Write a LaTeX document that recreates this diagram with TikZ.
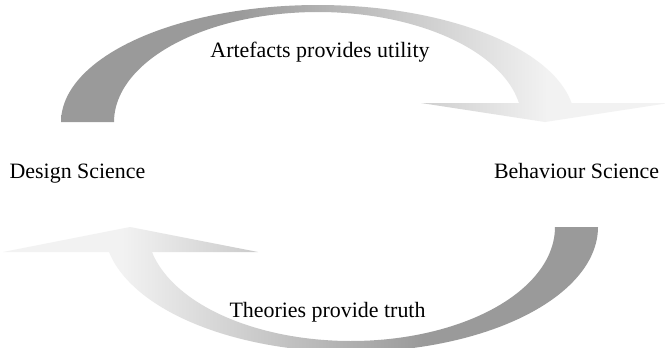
\documentclass[tikz,border=0pt]{standalone}
\usepackage{fontspec}
\setmainfont{Liberation Serif}
\definecolor{arrowdark}{HTML}{9A9A9A}
\definecolor{arrowlight}{HTML}{F2F2F2}
% dark on the tail side, fading to light towards the head
\pgfdeclarehorizontalshading{sweep}{100bp}{color(0bp)=(arrowdark); color(39.7bp)=(arrowdark); color(65bp)=(arrowlight); color(100bp)=(arrowlight)}
\tikzset{
  tag text/.style={inner sep=0pt, font=\fontsize{22}{26}\selectfont, anchor=base},
  block arrow/.style={shading=sweep, draw=none},
}
\begin{document}
\begin{tikzpicture}[x=1bp, y=-1bp]
\useasboundingbox (0,0) rectangle (665,347);
\fill[white] (0,0) rectangle (665,347);
\clip (0,0) rectangle (665,347);

% upper curved arrow, from Design Science over to Behaviour Science
\shade[block arrow]
  plot[domain=180:350.66, samples=90] ({318+257*cos(\x)}, {122+117*sin(\x)})
  -- (669,103) -- (545,122) -- (421,103)
  -- plot[domain=350.06:180, samples=90] ({318+204*cos(\x)}, {122+110*sin(\x)})
  -- cycle;

% lower curved arrow, from Behaviour Science back to Design Science
\shade[block arrow, shading angle=180]
  plot[domain=0:168.46, samples=90] ({351+247*cos(\x)}, {227+125*sin(\x)})
  -- (3,252) -- (130,227) -- (258,252)
  -- plot[domain=167.33:0, samples=90] ({351+204*cos(\x)}, {227+114*sin(\x)})
  -- cycle;

\node[tag text] (design) at (77.5,178) {Design Science};
\node[tag text] (behaviour) at (576.5,178) {Behaviour Science};
\node[tag text] (utility) at (320,57) {Artefacts provides utility};
\node[tag text] (truth) at (327.5,317) {Theories provide truth};
\end{tikzpicture}
\end{document}
